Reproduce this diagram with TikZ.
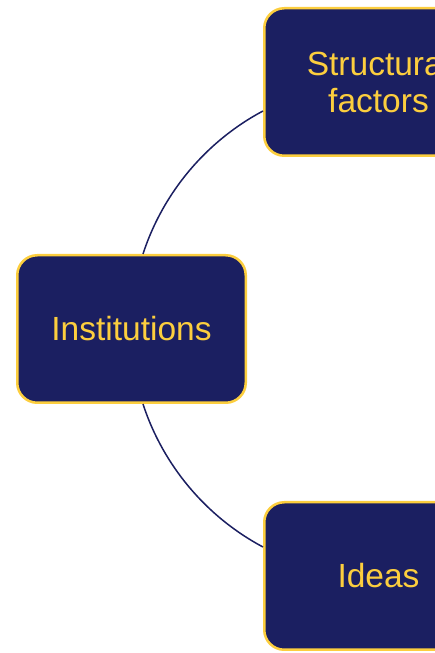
\documentclass[tikz,border=0pt]{standalone}
\usepackage{fontspec}
\setmainfont{Liberation Sans}
\usepackage{tikz}
\usetikzlibrary{positioning}

\definecolor{boxnavy}{RGB}{27,31,97}
\definecolor{boxgold}{RGB}{252,206,62}

\begin{document}
\begin{tikzpicture}[x=1pt,y=1pt,
        factor/.style={draw=boxgold, fill=boxnavy, line width=2.5pt, rounded corners=20pt,
                       minimum width=228.5pt, minimum height=147.5pt, text=boxgold,
                       align=center, font=\fontsize{33.5}{36.5}\selectfont},
        link/.style={draw=boxnavy, line width=1.5pt}]
                \useasboundingbox (0,0) rectangle (434,653);

                \node[factor] (struct) at (378.5,571) {Structural\\factors};
                \node[factor] (inst)   at (131.5,324) {Institutions};
                \node[factor] (ideas)  at (378.5,77)  {Ideas};

                \path[link]
                ([xshift=11.5pt]inst.north) edge [bend left=22, looseness=0.88]  ([yshift=-29pt]struct.west)
                ([xshift=11.5pt]inst.south) edge [bend right=22, looseness=0.88] ([yshift=29pt]ideas.west);
            \end{tikzpicture}
\end{document}
